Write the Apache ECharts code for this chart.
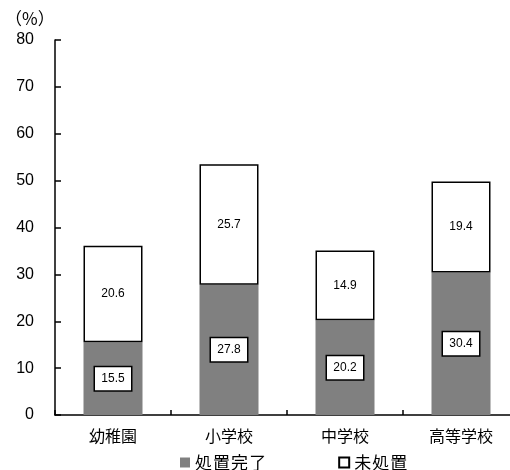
<!DOCTYPE html>
<html>
<head>
<meta charset="utf-8">
<style>html,body{margin:0;padding:0;background:#fff;overflow:hidden}</style>
<script src="https://cdn.jsdelivr.net/npm/echarts@6/dist/echarts.min.js"></script>
</head>
<body>
<!-- 右端の目盛りが窓の外に出るので少し広く取る -->
<div id="chart" style="width:530px;height:470px"></div>
<script>
// 処置完了 / 未処置 の割合
const categories = ['幼稚園', '小学校', '中学校', '高等学校'];
const treated = [15.5, 27.8, 20.2, 30.4];
const untreated = [20.6, 25.7, 14.9, 19.4];
const seriesNames = ['処置完了', '未処置'];
const font = '"Liberation Sans","Noto Sans CJK JP",sans-serif';
const cjkFont = '"Noto Sans CJK JP",sans-serif';

const chart = echarts.init(document.getElementById('chart'), null, {renderer: 'canvas'});
chart.setOption({
    animation: false,
    backgroundColor: '#fff',
    grid: {left: 55, top: 40, width: 464, height: 375, containLabel: false},
    graphic: [{
        type: 'text', left: 5, top: 10,
        style: {text: '（%）', fontFamily: 'Noto Sans CJK JP', fontSize: 17, fill: '#000'}
    }],
    legend: {
        left: 180, top: 454, padding: 0, icon: 'rect', itemWidth: 10, itemHeight: 10, itemGap: 72,
        textStyle: {fontFamily: cjkFont, fontSize: 17, color: '#000'},
        formatter: name => name.split('').join('\u200a'),
        data: seriesNames
    },
    xAxis: {
        type: 'category', data: categories,
        axisLine: {lineStyle: {color: '#000', width: 1.5}},
        axisTick: {show: true, inside: true, length: 5, alignWithLabel: false, lineStyle: {color: '#000', width: 1.5}},
        axisLabel: {color: '#000', fontFamily: cjkFont, fontSize: 16, margin: 13, interval: 0}
    },
    yAxis: {
        type: 'value', min: 0, max: 80, interval: 10,
        splitLine: {show: false},
        axisLine: {show: true, lineStyle: {color: '#000', width: 1.5}},
        axisTick: {show: true, inside: true, length: 6, lineStyle: {color: '#000', width: 1.5}},
        axisLabel: {color: '#000', fontFamily: font, fontSize: 16, margin: 21}
    },
    series: [{
        name: seriesNames[0], type: 'bar', stack: 'a', data: treated, barWidth: 59,
        itemStyle: {color: '#808080'},
        label: {
            show: true, position: 'inside', color: '#000', fontFamily: font, fontSize: 12,
            backgroundColor: '#fff', borderColor: '#000', borderWidth: 1.5,
            width: 36, height: 23, lineHeight: 23, align: 'center', verticalAlign: 'middle',
            formatter: p => p.value.toFixed(1)
        }
    }, {
        name: seriesNames[1], type: 'bar', stack: 'a', data: untreated, barWidth: 59,
        itemStyle: {color: '#fff', borderColor: '#000', borderWidth: 1.5},
        label: {
            show: true, position: 'inside', color: '#000', fontFamily: font, fontSize: 12,
            formatter: p => p.value.toFixed(1)
        }
    }]
});
</script>
</body>
</html>
